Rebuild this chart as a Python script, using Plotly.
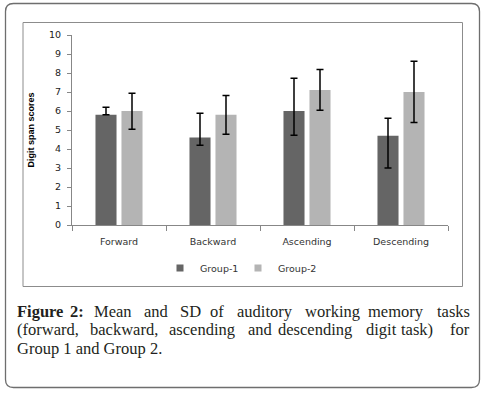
import plotly.graph_objects as go

categories = ["Forward", "Backward", "Ascending", "Descending"]
group1_mean = [5.8, 4.6, 6.0, 4.7]
group1_err_plus = [0.4, 1.28, 1.72, 0.92]
group1_err_minus = [0.0, 0.4, 1.28, 1.7]
group2_mean = [6.0, 5.8, 7.1, 7.0]
group2_err_plus = [0.93, 1.02, 1.09, 1.62]
group2_err_minus = [0.96, 1.02, 1.06, 1.6]
series_names = ["Group-1", "Group-2"]
y_ticks = list(range(0, 11))
caption_lines = [
    ["<b>Figure</b>", "<b>2:</b>", "Mean", "and", "SD", "of", "auditory", "working", "memory", "tasks"],
    ["(forward,", "backward,", "ascending", "and", "descending", "digit", "task)", "for"],
    ["Group 1 and Group 2."],
]

W, H = 485, 393
L, R, T, B = 72, 448, 35, 225


def px(x):
    return (x - L) / (R - L)


def py(y):
    return (B - y) / (B - T)


C1, C2 = "#656565", "#b4b4b4"
AX = "#878787"

fig = go.Figure()
fig.add_trace(go.Bar(
    x=categories, y=group1_mean, name=series_names[0], marker_color=C1,
    marker_line_width=0, showlegend=False,
    error_y=dict(type="data", symmetric=False, array=group1_err_plus,
                 arrayminus=group1_err_minus, color="#000000", thickness=1.5, width=3.5),
))
fig.add_trace(go.Bar(
    x=categories, y=group2_mean, name=series_names[1], marker_color=C2,
    marker_line_width=0, showlegend=False,
    error_y=dict(type="data", symmetric=False, array=group2_err_plus,
                 arrayminus=group2_err_minus, color="#000000", thickness=1.5, width=3.5),
))
for nm, c in zip(series_names, [C1, C2]):
    fig.add_trace(go.Scatter(x=[None], y=[None], mode="markers", name=nm,
                             marker=dict(symbol="square", size=7, color=c)))

fig.update_layout(
    width=W, height=H,
    margin=dict(l=L, r=W - R, t=T, b=H - B, autoexpand=False),
    paper_bgcolor="white", plot_bgcolor="white",
    barmode="group", bargap=0.447, bargroupgap=0.19,
    showlegend=True,
    legend=dict(orientation="h", x=px(160), xanchor="left", y=py(268), yanchor="middle",
                font=dict(family="DejaVu Sans", size=9.5, color="#333333"),
                entrywidth=33, bgcolor="rgba(0,0,0,0)"),
    xaxis=dict(
        type="category", range=[-0.5, 3.5], showline=True, linecolor=AX, linewidth=1,
        ticks="outside", tickson="boundaries", ticklen=5, tickcolor=AX,
        showgrid=False, zeroline=False, ticklabelstandoff=8,
        tickfont=dict(family="DejaVu Sans", size=9.5, color="#333333"),
    ),
    yaxis=dict(
        range=[0, 10], tickvals=y_ticks, showline=True, linecolor=AX, linewidth=1,
        ticks="outside", ticklen=4, tickcolor=AX, showgrid=False, zeroline=False,
        ticklabelstandoff=4,
        tickfont=dict(family="DejaVu Sans", size=9.5, color="#222222"),
        title=dict(text="<b>Digit span scores</b>", standoff=12,
                   font=dict(family="Liberation Sans", size=9, color="#000000")),
    ),
    font=dict(family="DejaVu Sans"),
)

# inner chart box
fig.add_shape(type="rect", xref="paper", yref="paper",
              x0=px(23), x1=px(462.5), y0=py(286.5), y1=py(22.5),
              line=dict(color="#8c8c8c", width=1), layer="below")

# outer rounded border
x0, x1, y0, y1, r = 5.5, 479.5, 3.5, 387.5, 8


def P(x, y):
    return f"{px(x):.5f},{py(y):.5f}"


path = (f"M {P(x0 + r, y0)} L {P(x1 - r, y0)} Q {P(x1, y0)} {P(x1, y0 + r)} "
        f"L {P(x1, y1 - r)} Q {P(x1, y1)} {P(x1 - r, y1)} "
        f"L {P(x0 + r, y1)} Q {P(x0, y1)} {P(x0, y1 - r)} "
        f"L {P(x0, y0 + r)} Q {P(x0, y0)} {P(x0 + r, y0)} Z")
fig.add_shape(type="path", xref="paper", yref="paper", path=path,
              line=dict(color="#6e6e6e", width=1.3))

# caption, justified by placing words
word_x = [
    [15, 68, 92, 142, 178, 208, 235, 303, 366, 472],
    [15, 88, 167, 246, 276, 364, 399, 472],
    [15],
]
line_y = [311, 329.5, 348]
for words, xs, yy in zip(caption_lines, word_x, line_y):
    n = len(words)
    for i, (w, xx) in enumerate(zip(words, xs)):
        last = (i == n - 1 and n > 1)
        fig.add_annotation(xref="paper", yref="paper", x=px(xx), y=py(yy),
                           text=w, showarrow=False,
                           xanchor="right" if last else "left", yanchor="middle",
                           font=dict(family="Liberation Serif", size=16.5, color="#231f20"))

fig.write_html("out.html", config={"displayModeBar": False},
               post_script="document.body.style.margin='0';")
